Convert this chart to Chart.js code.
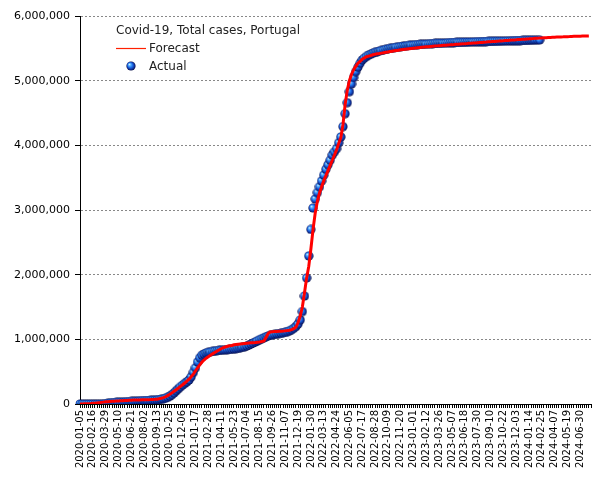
<!DOCTYPE html>
<html>
<head>
<meta charset="utf-8">
<script src="https://cdn.jsdelivr.net/npm/chart.js@4/dist/chart.umd.min.js"></script>
<style>
html,body{margin:0;padding:0;background:#fff;}
#c{display:block;}
</style>
</head>
<body>
<canvas id="c" width="605" height="480"></canvas>
<script>
// ---- Data (values in millions of cases, weekly) ----
const startDate = '2020-01-05';
const weekCount = 240; // weekly categories 2020-01-05 .. 2024-08-04
const labelEvery = 6;

const chartTitle = 'Covid-19, Total cases, Portugal';
const forecastLabel = 'Forecast';
const actualLabel = 'Actual';

const yTicks = [0, 1000000, 2000000, 3000000, 4000000, 5000000, 6000000];

const actualM = [
0,0,0,0,0,0,0,0,0,0.0001,
0.0003,0.002,0.006,0.011,0.017,0.020,0.023,0.025,0.027,0.028,
0.030,0.032,0.034,0.036,0.039,0.041,0.044,0.047,0.049,0.051,
0.052,0.053,0.054,0.056,0.058,0.060,0.064,0.069,0.075,0.081,
0.090,0.103,0.121,0.145,0.173,0.205,0.236,0.267,0.294,0.320,
0.345,0.372,0.420,0.489,0.560,0.650,0.715,0.755,0.775,0.790,
0.800,0.806,0.812,0.821,0.825,0.829,0.832,0.835,0.838,
0.841,0.844,0.847,0.851,0.856,0.862,0.870,0.878,0.886,0.897,
0.912,0.928,0.944,0.960,0.978,0.995,1.010,1.025,1.040,1.052,
1.062,1.070,1.077,1.083,1.089,1.095,1.102,1.110,1.120,1.133,
1.150,1.172,1.200,1.240,1.300,1.430,1.670,1.950,2.290,2.700,
3.030,3.170,3.270,3.360,3.450,3.540,3.630,3.700,3.770,3.850,
3.900,3.950,4.040,4.130,4.290,4.490,4.660,4.830,4.950,5.050,
5.140,5.210,5.270,5.320,5.350,5.375,5.395,5.410,5.425,5.437,
5.448,5.458,5.467,5.476,5.484,5.492,5.499,5.506,5.512,5.518,
5.523,5.528,5.533,5.537,5.541,5.545,5.549,5.553,5.556,5.558,
5.561,5.563,5.565,5.567,5.569,5.571,5.573,5.575,5.577,5.578,
5.580,5.581,5.583,5.586,5.587,5.589,5.590,5.591,5.592,
5.593,5.594,5.595,5.596,5.597,5.598,5.599,5.600,5.601,5.602,
5.603,5.604,5.605,5.606,5.607,5.608,5.609,5.610,5.611,5.612,
5.613,5.614,5.615,5.616,5.617,5.618,5.619,5.620,5.621,5.622,
5.623,5.624,5.625,5.626,5.627,5.628,5.629,5.630
];

const forecastM = [
0.000,0.001,0.002,0.003,0.005,0.007,0.010,0.013,0.017,0.021,
0.025,0.029,0.033,0.036,0.039,0.041,0.043,0.045,0.047,0.049,
0.051,0.053,0.055,0.057,0.059,0.060,0.061,0.062,0.063,0.064,
0.065,0.066,0.067,0.068,0.070,0.072,0.075,0.080,0.088,0.098,
0.112,0.130,0.150,0.172,0.196,0.221,0.246,0.272,0.298,0.325,
0.353,0.383,0.420,0.462,0.510,0.560,0.605,0.645,0.680,0.708,
0.730,0.752,0.775,0.795,0.815,0.835,0.855,0.870,0.882,0.892,
0.900,0.906,0.915,0.919,0.923,0.927,0.931,0.935,0.939,
0.943,0.946,0.949,0.952,0.956,0.960,0.965,0.975,1.030,1.090,
1.115,1.118,1.120,1.122,1.124,1.126,1.128,1.131,1.135,1.140,
1.150,1.165,1.190,1.260,1.360,1.500,1.720,1.950,2.130,2.400,
2.700,2.950,3.130,3.260,3.360,3.450,3.530,3.610,3.690,3.770,
3.850,3.930,4.030,4.120,4.320,4.630,4.850,5.000,5.100,5.170,
5.220,5.270,5.300,5.330,5.350,5.370,5.380,5.390,5.400,5.410,
5.415,5.420,5.426,5.432,5.438,5.444,5.450,5.456,5.462,5.467,
5.472,5.477,5.482,5.486,5.490,5.494,5.498,5.502,5.506,5.510,
5.514,5.517,5.520,5.523,5.526,5.529,5.532,5.535,5.538,5.541,
5.544,5.547,5.549,5.552,5.554,5.557,5.559,5.562,5.564,5.567,
5.569,5.572,5.574,5.577,5.579,5.582,5.584,5.587,5.590,5.592,
5.595,5.597,5.600,5.602,5.605,5.607,5.610,5.612,5.615,5.617,
5.620,5.622,5.625,5.627,5.630,5.632,5.635,5.637,5.640,5.642,
5.645,5.647,5.650,5.652,5.655,5.657,5.659,5.661,5.663,5.665,
5.667,5.669,5.671,5.672,5.674,5.675,5.677,5.678,5.680,5.681,
5.682,5.684,5.685,5.686,5.687,5.688,5.689,5.690,5.690,
5.691
];

// ---- Build categories (weekly dates) ----
const categories = [];
{
  const d0 = new Date(startDate + 'T00:00:00Z');
  for (let i = 0; i < weekCount; i++) {
    const d = new Date(d0.getTime() + i * 7 * 86400000);
    categories.push(d.toISOString().slice(0, 10));
  }
}

// ---- Sphere marker ----
function makeBall() {
  const s = 10, c = document.createElement('canvas');
  c.width = s; c.height = s;
  const g = c.getContext('2d');
  const cx = 5, cy = 5, r = 4.6;
  const grad = g.createRadialGradient(cx - 1.8, cy - 1.8, 0.2, cx, cy, r);
  grad.addColorStop(0, '#e6f6ff');
  grad.addColorStop(0.22, '#5ab4ff');
  grad.addColorStop(0.5, '#2070ea');
  grad.addColorStop(0.8, '#0f309c');
  grad.addColorStop(1, '#060d44');
  g.fillStyle = grad;
  g.beginPath(); g.arc(cx, cy, r, 0, Math.PI * 2); g.fill();
  return c;
}
const ball = makeBall();

const FONT = 'DejaVu Sans';

const legendPlugin = {
  id: 'customLegend',
  afterDraw(chart) {
    const ctx = chart.ctx;
    ctx.save();
    ctx.font = '12px "' + FONT + '"';
    ctx.fillStyle = '#222';
    ctx.textBaseline = 'middle';
    ctx.textAlign = 'left';
    ctx.fillText(chartTitle, 116, 31);
    ctx.strokeStyle = '#ff2000';
    ctx.lineWidth = 1.2;
    ctx.beginPath(); ctx.moveTo(116, 48.5); ctx.lineTo(146, 48.5); ctx.stroke();
    ctx.fillText(chart.data.datasets[0].label, 149, 48.5);
    ctx.drawImage(ball, 131 - 5, 66 - 5);
    ctx.fillText(chart.data.datasets[1].label, 149, 67);
    ctx.restore();
  }
};

new Chart(document.getElementById('c'), {
  type: 'line',
  data: {
    labels: categories,
    datasets: [
      {
        label: forecastLabel,
        data: forecastM.map(v => v * 1e6),
        borderColor: '#ff0000',
        borderWidth: 3,
        pointRadius: 0,
        tension: 0,
        fill: false
      },
      {
        label: actualLabel,
        data: actualM.map(v => v * 1e6),
        showLine: false,
        pointStyle: ball,
        pointRadius: 4.5,
        borderWidth: 0
      }
    ]
  },
  options: {
    responsive: false,
    animation: false,
    events: [],
    layout: { padding: { left: 0, right: 12, top: 16, bottom: 0 } },
    plugins: {
      legend: { display: false },
      tooltip: { enabled: false },
      title: { display: false }
    },
    scales: {
      x: {
        type: 'category',
        offset: false,
        grid: {
          drawOnChartArea: false,
          drawTicks: true,
          tickLength: 4,
          tickColor: '#000',
          tickWidth: 1
        },
        border: { display: true, color: '#000', width: 1 },
        ticks: {
          autoSkip: false,
          maxRotation: 90,
          minRotation: 90,
          padding: 2,
          color: '#000',
          font: { family: FONT, size: 10 },
          callback: function (val, idx) {
            return idx % labelEvery === 0 ? categories[idx] : '';
          }
        },
        afterFit(scale) { scale.height = 76; }
      },
      y: {
        min: 0,
        max: 6000000,
        afterBuildTicks(scale) { scale.ticks = yTicks.map(v => ({ value: v })); },
        grid: {
          color: '#888',
          lineWidth: 1,
          drawTicks: true,
          tickLength: 5,
          tickColor: '#000',
          tickBorderDash: []
        },
        border: { display: true, color: '#000', width: 1, dash: [2, 2] },
        ticks: {
          padding: 5,
          color: '#000',
          font: { family: FONT, size: 11 },
          callback: v => Number(v).toLocaleString('en-US')
        },
        afterFit(scale) { scale.width = 80; }
      }
    }
  },
  plugins: [legendPlugin]
});
</script>
</body>
</html>
